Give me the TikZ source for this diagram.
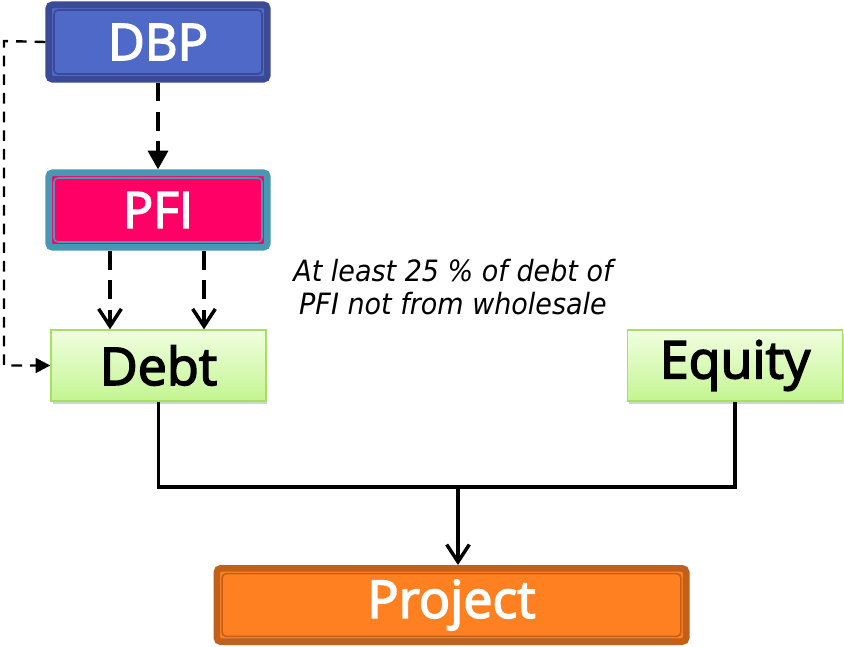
\documentclass[tikz,border=0pt]{standalone}
\usepackage{fontspec}
\setmainfont{Open Sans}
\newfontfamily\boxfont[FakeBold=3]{Open Sans}
\newfontfamily\notefont[FakeStretch=0.92]{DejaVu Sans}
\usetikzlibrary{arrows.meta,shadows}

\definecolor{dbpfill}{HTML}{4F69C9}
\definecolor{dbpline}{HTML}{3A4A94}
\definecolor{pfifill}{HTML}{FF0066}
\definecolor{pfiline}{HTML}{4897B4}
\definecolor{greentop}{HTML}{F0FFE0}
\definecolor{greenbot}{HTML}{C4F592}
\definecolor{greenline}{HTML}{A6E05E}
\definecolor{projfill}{HTML}{FF8020}
\definecolor{projline}{HTML}{C0601A}

\tikzset{
  topbox/.style={rectangle, rounded corners=3pt, line width=5pt, inner sep=0pt,
    minimum width=164pt, minimum height=56pt, text=white},
  innerline/.style 2 args={path picture={
    \draw[#1, line width=1.2pt] ([shift={(4pt,-4pt)}]path picture bounding box.north west)
      rectangle ([shift={(-4pt,4pt)}]path picture bounding box.south east);}},
  dbpbox/.style={topbox, draw=dbpline, fill=dbpfill, innerline={dbpline}{},
    font=\boxfont\fontsize{38}{38}\selectfont},
  pfibox/.style={topbox, draw=pfiline, fill=pfifill, innerline={pfiline}{},
    font=\boxfont\fontsize{37.5}{37.5}\selectfont},
  greenbox/.style={rectangle, draw=greenline, line width=1.2pt, inner sep=0pt,
    top color=greentop, bottom color=greenbot, minimum width=161pt, minimum height=53pt,
    drop shadow={shadow xshift=1pt, shadow yshift=-2.5pt, opacity=.35},
    font=\boxfont\fontsize{39}{39}\selectfont},
  projbox/.style={topbox, draw=projline, fill=projfill, innerline={projline}{},
    minimum width=352pt, minimum height=55pt, font=\boxfont\fontsize{39}{39}\selectfont},
  dashflow/.style={line width=2.6pt, dash pattern=on 14pt off 8pt},
  sideflow/.style={line width=1.8pt, dash pattern=on 8pt off 6pt,
    -{Triangle[length=11pt,width=11pt]}},
  joinline/.style={line width=2.6pt}
}

\begin{document}
\begin{tikzpicture}[x=0.75pt,y=-0.75pt]
  \useasboundingbox (0,0) rectangle (844,647);

  % boxes
  \node[dbpbox] (dbp) at (158,42) {DBP};
  \node[pfibox] (pfi) at (158,210) {PFI};
  \node[greenbox] (debt) at (158.5,365.5) {Debt};
  \node[greenbox] (equity) at (735,365.5) {Equity};
  \node[projbox] (proj) at (451.5,605) {Project};

  \node[font=\notefont\itshape\fontsize{22}{25}\selectfont, align=center] (note)
    at (453,287) {At least 25 \% of debt of\\PFI not from wholesale};

  % dashed flows
  \draw[dashflow, -{Triangle[length=14pt,width=15pt]}] (dbp) -- (pfi);
  \coordinate (pl) at (110,251);
  \coordinate (pr) at (204,251);
  \draw[dashflow, -{Straight Barb[length=13pt,width=17pt,line width=2.6pt]}] (pl) -- (pl |- debt.north);
  \draw[dashflow, -{Straight Barb[length=13pt,width=17pt,line width=2.6pt]}] (pr) -- (pr |- debt.north);
  \draw[sideflow] (dbp.west) -- (4,41) |- (debt.west);

  % solid join
  \coordinate (joint) at (458,487);
  \draw[joinline] (debt.south) -- (debt.south |- joint) -- (equity.south |- joint) -- (equity.south);
  \draw[joinline, -{Straight Barb[length=13pt,width=17pt,line width=2.6pt]}] (joint) -- (joint |- proj.north);
\end{tikzpicture}
\end{document}
